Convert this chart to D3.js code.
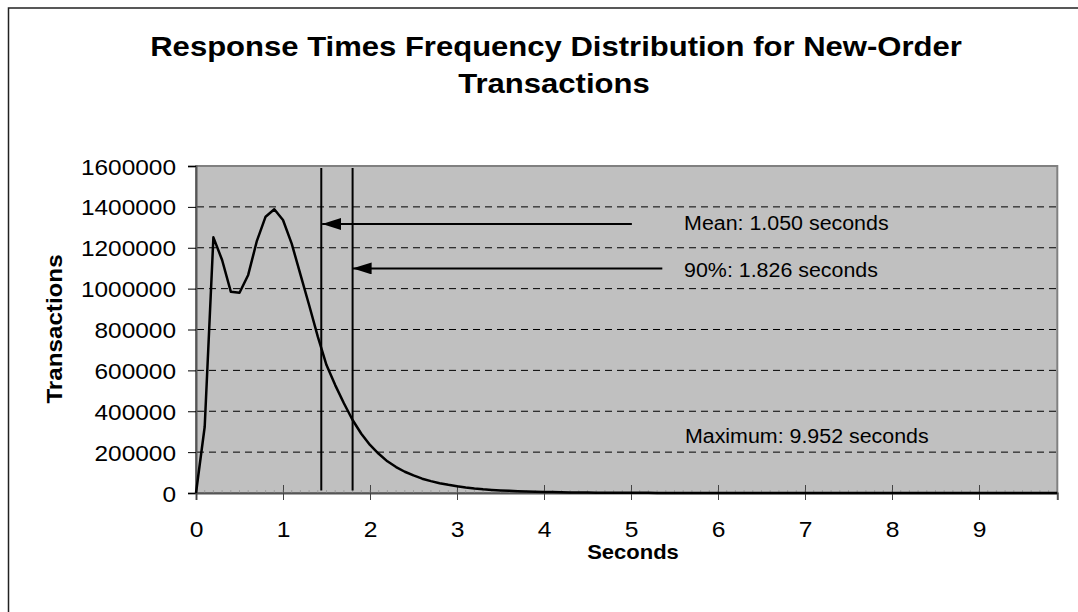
<!DOCTYPE html>
<html>
<head>
<meta charset="utf-8">
<script src="https://cdn.jsdelivr.net/npm/d3@7"></script>
<style>
	body { margin: 0; background: #fff; }
	text { font-family: Arial, "Liberation Sans", sans-serif; fill: #000; }
</style>
</head>
<body>
<svg id="chart" width="1078" height="612"></svg>
<script>
// response time buckets, 0.1 s wide
var seconds = d3.range(100).map(function(i) { return i / 10; });
var transactions = [
	0, 324000, 1251000, 1140000, 985000, 980000, 1067000, 1234000, 1352000, 1388000,
	1336000, 1220000, 1070000, 920000, 765000, 626000, 528000, 439000, 357000, 290000,
	235000, 192000, 155000, 127000, 104000, 86000, 70000, 58000, 48000, 40000,
	33000, 27000, 22000, 18000, 15000, 12500, 10500, 8800, 7300, 6100,
	5100, 4300, 3600, 3000, 2500, 2100, 1800, 1500, 1300, 1100,
	950, 820, 700, 600, 520, 450, 390, 340, 300, 260,
	230, 200, 180, 160, 140, 120, 110, 100, 90, 80,
	70, 60, 55, 50, 45, 40, 35, 30, 28, 25,
	22, 20, 18, 16, 14, 12, 11, 10, 9, 8,
	7, 6, 5, 5, 4, 4, 3, 3, 2, 1
];
var xTicks = [0, 1, 2, 3, 4, 5, 6, 7, 8, 9];
var yTicks = [0, 200000, 400000, 600000, 800000, 1000000, 1200000, 1400000, 1600000];

// marker lines + labels
var markerLines = [
	{ name: "mean", x: 1.44 },
	{ name: "p90", x: 1.80 }
];
var arrows = [
	{ from: 5.01, to: 1.45, v: 1316000 },
	{ from: 5.36, to: 1.80, v: 1099000 }
];
var notes = [
	{ text: "Mean: 1.050 seconds", x: 5.61, v: 1287000 },
	{ text: "90%: 1.826 seconds", x: 5.61, v: 1057000 },
	{ text: "Maximum: 9.952 seconds", x: 5.62, v: 245000 }
];

var svg = d3.select("#chart");
var plotL = 196, plotR = 1057.3, plotT = 166, plotB = 493;

var x = d3.scaleLinear().domain([0, 9.9]).range([plotL, plotR]);
var y = d3.scaleLinear().domain([0, 1600000]).range([plotB, plotT]);

// text squeezed wider like the original
function label(g, str, tx, ty, opts) {
	opts = opts || {};
	var t = g.append("text")
		.attr("transform", "translate(" + tx + "," + ty + ")" + (opts.rotate ? " rotate(" + opts.rotate + ")" : "") + " scale(" + (opts.sx || 1.1) + ",1)")
		.style("font-size", (opts.size || 20) + "px")
		.style("font-weight", opts.bold ? "bold" : "normal")
		.style("text-anchor", opts.anchor || "start")
		.text(str);
	return t;
}

// outer frame
svg.append("rect")
	.attr("x", 8.5).attr("y", 8)
	.attr("width", 1090).attr("height", 620)
	.attr("fill", "#fff")
	.attr("stroke", "#222")
	.attr("stroke-width", 1.5);

// title
label(svg, "Response Times Frequency Distribution for New-Order", 556, 56, { bold: true, size: 27, anchor: "middle", sx: 1.15 });
label(svg, "Transactions", 554, 93, { bold: true, size: 27, anchor: "middle", sx: 1.15 });

// plot background
svg.append("rect")
	.attr("x", plotL).attr("y", plotT)
	.attr("width", plotR - plotL).attr("height", plotB - plotT)
	.attr("fill", "#c0c0c0")
	.attr("stroke", "#808080")
	.attr("stroke-width", 2);

// gridlines
svg.append("g").selectAll("line")
	.data(yTicks.filter(function(d) { return d > 0 && d < 1600000; }))
	.enter().append("line")
		.attr("x1", plotL + 1).attr("x2", plotR)
		.attr("y1", function(d) { return y(d); })
		.attr("y2", function(d) { return y(d); })
		.attr("stroke", "#000")
		.attr("stroke-width", 1)
		.attr("stroke-dasharray", "7,5");

// y axis
var yAxis = svg.append("g")
	.attr("transform", "translate(" + plotL + ",0)")
	.call(d3.axisLeft(y).tickValues(yTicks).tickSize(8).tickFormat(d3.format("d")));
yAxis.select(".domain").attr("stroke", "#555").attr("stroke-width", 2);
yAxis.selectAll(".tick line").attr("stroke", "#000");
yAxis.selectAll(".tick text").remove();
yAxis.selectAll(".tick").each(function(d) {
	label(d3.select(this), d3.format("d")(d), -20, 8, { size: 22, anchor: "end", sx: 1.11 });
});

// x axis
var xAxis = svg.append("g")
	.attr("transform", "translate(0," + plotB + ")")
	.call(d3.axisBottom(x).tickValues(xTicks).tickSize(7).tickFormat(""));
xAxis.select(".domain").attr("stroke", "#555").attr("stroke-width", 2);
xAxis.selectAll(".tick line").attr("y1", -8).attr("stroke", "#444");
xAxis.selectAll(".tick").each(function(d) {
	label(d3.select(this), String(d), 0, 44, { size: 22, anchor: "middle", sx: 1.12 });
});
// minor category marks
svg.append("g").selectAll("line")
	.data(seconds)
	.enter().append("line")
		.attr("x1", function(d) { return x(d); })
		.attr("x2", function(d) { return x(d); })
		.attr("y1", plotB - 3).attr("y2", plotB)
		.attr("stroke", "#888")
		.attr("stroke-width", 0.6);

// axis titles
label(svg, "Seconds", 633, 559, { bold: true, size: 20, anchor: "middle", sx: 1.1 });
label(svg, "Transactions", 62, 329, { bold: true, size: 22, anchor: "middle", rotate: -90, sx: 1.1 });

// response curve
var line = d3.line()
	.x(function(d, i) { return x(seconds[i]); })
	.y(function(d) { return y(d); });

svg.append("path")
	.datum(transactions)
	.attr("d", line)
	.attr("fill", "none")
	.attr("stroke", "#000")
	.attr("stroke-width", 2.5)
	.attr("stroke-linejoin", "round");

// mean / 90% vertical lines
svg.append("g").selectAll("line")
	.data(markerLines)
	.enter().append("line")
		.attr("x1", function(d) { return x(d.x); })
		.attr("x2", function(d) { return x(d.x); })
		.attr("y1", y(1590000)).attr("y2", y(12000))
		.attr("stroke", "#000")
		.attr("stroke-width", 2);

// arrows
svg.append("defs").append("marker")
	.attr("id", "head")
	.attr("viewBox", "0 0 19 12")
	.attr("refX", 0).attr("refY", 6)
	.attr("markerUnits", "userSpaceOnUse")
	.attr("markerWidth", 19).attr("markerHeight", 12)
	.attr("orient", "auto")
	.append("path")
		.attr("d", "M0,6L19,0L19,12Z")
		.attr("fill", "#000");

svg.append("g").selectAll("line")
	.data(arrows)
	.enter().append("line")
		.attr("x1", function(d) { return x(d.to); })
		.attr("x2", function(d) { return x(d.from); })
		.attr("y1", function(d) { return y(d.v); })
		.attr("y2", function(d) { return y(d.v); })
		.attr("stroke", "#000")
		.attr("stroke-width", 2)
		.attr("marker-start", "url(#head)");

// notes
notes.forEach(function(n) {
	label(svg, n.text, x(n.x), y(n.v), { size: 20, sx: 1.07 });
});
</script>
</body>
</html>
